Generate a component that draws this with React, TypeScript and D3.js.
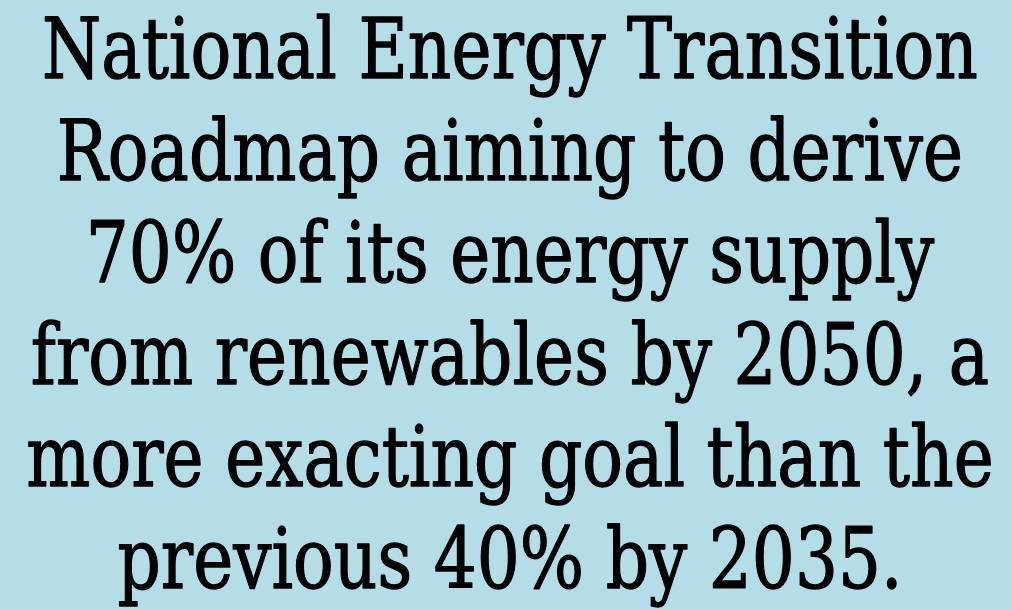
import { useRef, useEffect } from 'react'
import * as d3 from 'd3'

const WIDTH = 1011
const HEIGHT = 609
const BG = '#b5dde7'
const FONT = '"DejaVu Serif", serif'
const FONT_SIZE = 85
const CENTER_X = 510
const FIRST_BASELINE = 78
const LINE_STEP = 102
const TARGET_FIRST_WIDTH = 936

const lines = [
  'National Energy Transition',
  'Roadmap aiming to derive',
  '70% of its energy supply',
  'from renewables by 2050, a',
  'more exacting goal than the',
  'previous 40% by 2035.',
]

export default function App() {
  const svgRef = useRef<SVGSVGElement>(null)

  useEffect(() => {
    document.body.style.margin = '0'
    let cancelled = false

    function draw() {
      if (!svgRef.current || cancelled) return
      const svg = d3.select(svgRef.current)
      svg.selectAll('*').remove()

      svg.append('rect').attr('width', WIDTH).attr('height', HEIGHT).attr('fill', BG)

      const y = d3.scaleLinear().domain([0, 1]).range([FIRST_BASELINE, FIRST_BASELINE + LINE_STEP])

      const texts = svg.selectAll('text.line')
        .data(lines)
        .join('text')
        .attr('class', 'line')
        .attr('font-family', FONT)
        .attr('font-size', FONT_SIZE)
        .attr('fill', '#000')
        .attr('stroke', '#000')
        .attr('stroke-width', 1.4)
        .attr('stroke-linejoin', 'round')
        .attr('text-anchor', 'middle')
        .text((d) => d)

      // fit the first line to the width it has in the original
      const firstW = (texts.node() as SVGTextElement).getComputedTextLength()
      const sx = TARGET_FIRST_WIDTH / firstW

      texts.attr('transform', (_, i) => `translate(${CENTER_X},${y(i)}) scale(${sx},1)`)
    }

    draw()
    document.fonts.ready.then(draw)
    return () => { cancelled = true }
  }, [])

  return (
    <svg ref={svgRef} width={WIDTH} height={HEIGHT} style={{ display: 'block' }} />
  )
}
